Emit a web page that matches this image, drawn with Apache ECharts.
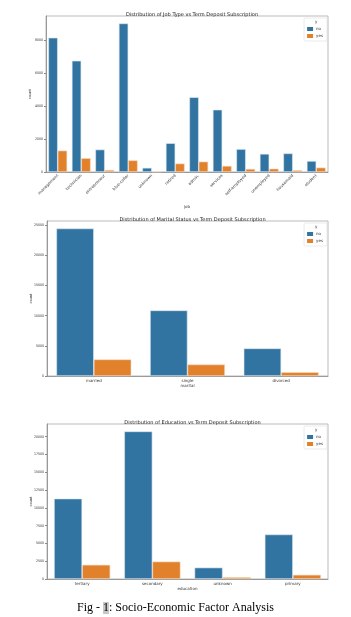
<!DOCTYPE html>
<html lang="en">
<head>
<meta charset="UTF-8">
<title>Socio-Economic Factor Analysis</title>
<script src="https://cdn.jsdelivr.net/npm/echarts@6/dist/echarts.min.js"></script>
<style>
  html, body { margin: 0; padding: 0; background: #fff; }
  #chart { width: 351px; height: 617px; }
</style>
</head>
<body>
<div id="chart"></div>
<script>
// job type
var jobCats = ['management', 'technician', 'entrepreneur', 'blue-collar', 'unknown', 'retired',
               'admin.', 'services', 'self-employed', 'unemployed', 'housemaid', 'student'];
var jobNo  = [8157, 6757, 1364, 9024, 254, 1748, 4540, 3785, 1392, 1101, 1131, 669];
var jobYes = [1301, 840, 123, 708, 34, 516, 631, 369, 187, 202, 109, 269];
var jobTicks = [0, 2000, 4000, 6000, 8000];

// marital
var maritalCats = ['married', 'single', 'divorced'];
var maritalNo  = [24459, 10878, 4585];
var maritalYes = [2755, 1912, 622];
var maritalTicks = [0, 5000, 10000, 15000, 20000, 25000];

// education
var eduCats = ['tertiary', 'secondary', 'unknown', 'primary'];
var eduNo  = [11305, 20752, 1605, 6260];
var eduYes = [1996, 2450, 257, 591];
var eduTicks = [0, 2500, 5000, 7500, 10000, 12500, 15000, 17500, 20000];

var BLUE = '#3274A1', ORANGE = '#E1812C';
var chart = echarts.init(document.getElementById('chart'));

var grids = [
  { left: 46, top: 16, width: 282, height: 156 },
  { left: 47, top: 221, width: 281, height: 155 },
  { left: 47, top: 424, width: 281, height: 155 }
];
var panels = [
  { cats: jobCats, no: jobNo, yes: jobYes, ticks: jobTicks, max: 9475, xname: 'job', title: 'Distribution of Job Type vs Term Deposit Subscription', rot: 45, gap: 33 },
  { cats: maritalCats, no: maritalNo, yes: maritalYes, ticks: maritalTicks, max: 25700, xname: 'marital', title: 'Distribution of Marital Status vs Term Deposit Subscription', rot: 0, gap: 8 },
  { cats: eduCats, no: eduNo, yes: eduYes, ticks: eduTicks, max: 21790, xname: 'education', title: 'Distribution of Education vs Term Deposit Subscription', rot: 0, gap: 8 }
];

var option = {
  animation: false,
  textStyle: { fontFamily: 'DejaVu Sans' },
  grid: grids.map(function (g) {
    return { left: g.left, top: g.top, width: g.width, height: g.height, show: true, borderColor: '#aaa', borderWidth: 0.8 };
  }),
  title: [],
  legend: [],
  xAxis: [],
  yAxis: [],
  series: [],
  graphic: []
};

panels.forEach(function (p, i) {
  var g = grids[i];
  option.title.push({
    text: p.title, left: g.left + g.width / 2, top: g.top - 9, textAlign: 'center',
    textStyle: { fontSize: 5, fontWeight: 'normal', color: '#222' }
  });
  option.xAxis.push({
    type: 'category', gridIndex: i, data: p.cats,
    name: p.xname, nameLocation: 'middle', nameGap: p.gap, nameMoveOverlap: false,
    nameTextStyle: { fontSize: 4, color: '#333' },
    axisLine: { lineStyle: { color: '#888', width: 0.8 } },
    axisTick: { alignWithLabel: true, length: 2, lineStyle: { color: '#888' } },
    axisLabel: { fontSize: 4, color: '#333', rotate: p.rot, margin: 3, interval: 0 }
  });
  option.yAxis.push({
    type: 'value', gridIndex: i, min: 0, max: p.max,
    name: 'count', nameLocation: 'middle', nameGap: 14, nameMoveOverlap: false,
    nameTextStyle: { fontSize: 3.5, color: '#333' },
    splitLine: { show: false },
    axisLine: { show: true, lineStyle: { color: '#888', width: 0.8 } },
    axisTick: { show: true, length: 2, customValues: p.ticks, lineStyle: { color: '#888' } },
    axisLabel: {
      fontSize: 3.5, color: '#333', margin: 3, customValues: p.ticks,
      fontFamily: 'Liberation Sans Narrow, DejaVu Sans Condensed, DejaVu Sans',
      formatter: function (v) { return String(v); }
    }
  });
  option.series.push({
    name: 'no', type: 'bar', xAxisIndex: i, yAxisIndex: i, data: p.no,
    barGap: '0%', barCategoryGap: '20%',
    itemStyle: { color: BLUE, borderColor: '#dfe9f2', borderWidth: 0.6 }
  });
  option.series.push({
    name: 'yes', type: 'bar', xAxisIndex: i, yAxisIndex: i, data: p.yes,
    barGap: '0%', barCategoryGap: '20%',
    itemStyle: { color: ORANGE, borderColor: '#f6dcc4', borderWidth: 0.6 }
  });
  option.legend.push({
    data: [{ name: 'no', icon: 'rect' }, { name: 'yes', icon: 'rect' }], orient: 'vertical',
    right: 351 - g.left - g.width + 1, top: g.top + 2,
    itemWidth: 6, itemHeight: 4, itemGap: 3,
    padding: [9, 4, 3, 3],
    borderColor: '#ddd', borderWidth: 0.6, borderRadius: 1,
    itemStyle: { borderWidth: 0 },
    textStyle: { fontSize: 4, color: '#333', padding: [0, 0, 0, -2] }
  });
  option.graphic.push({
    type: 'text', left: g.left + g.width - 13, top: g.top + 4,
    style: { text: 'y', fontSize: 4, fill: '#333', fontFamily: 'DejaVu Sans' }
  });
});

option.title.push({
  text: 'Fig - {h|1}: Socio-Economic Factor Analysis',
  left: 'center', top: 597,
  textStyle: {
    fontFamily: 'Liberation Serif', fontSize: 12, fontWeight: 'normal', color: '#000',
    rich: { h: { fontFamily: 'Liberation Serif', fontSize: 12, color: '#000', backgroundColor: '#c8c8c8' } }
  }
});

chart.setOption(option);
</script>
</body>
</html>
